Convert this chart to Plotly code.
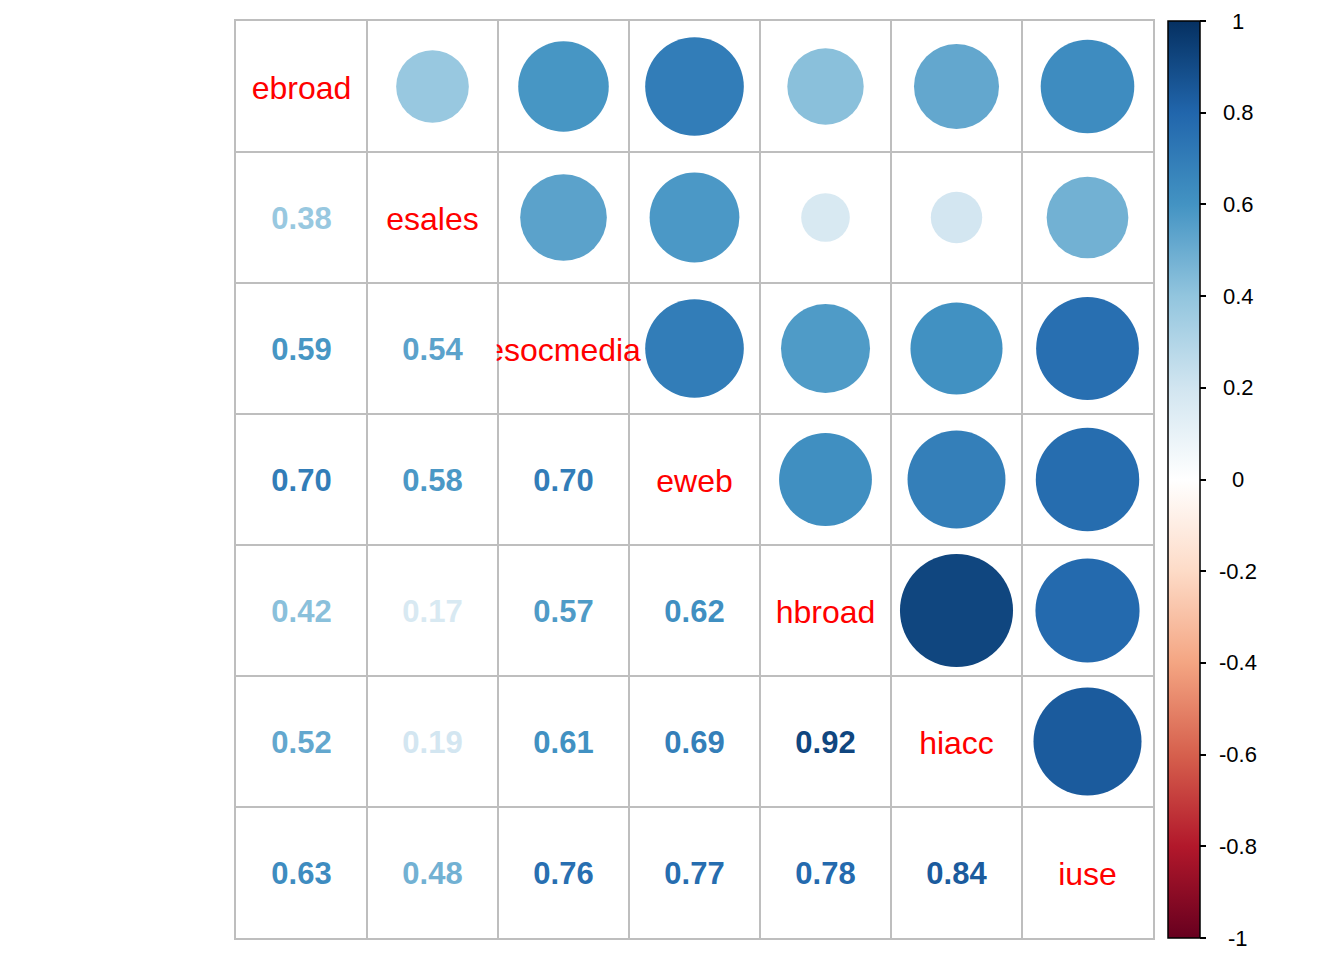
import numpy as np
import plotly.graph_objects as go

variables = ["ebroad", "esales", "esocmedia", "eweb", "hbroad", "hiacc", "iuse"]

# lower-triangle correlations, row by row (row i, columns 0..i-1)
corr_esales = [0.38]
corr_esocmedia = [0.59, 0.54]
corr_eweb = [0.70, 0.58, 0.70]
corr_hbroad = [0.42, 0.17, 0.57, 0.62]
corr_hiacc = [0.52, 0.19, 0.61, 0.69, 0.92]
corr_iuse = [0.63, 0.48, 0.76, 0.77, 0.78, 0.84]

lower_rows = [[], corr_esales, corr_esocmedia, corr_eweb, corr_hbroad, corr_hiacc, corr_iuse]

colorbar_ticks = [-1, -0.8, -0.6, -0.4, -0.2, 0, 0.2, 0.4, 0.6, 0.8, 1]
colorbar_labels = ["-1", "-0.8", "-0.6", "-0.4", "-0.2", "0", "0.2", "0.4", "0.6", "0.8", "1"]

palette = ["#67001F", "#B2182B", "#D6604D", "#F4A582", "#FDDBC7", "#FFFFFF",
           "#D1E5F0", "#92C5DE", "#4393C3", "#2166AC", "#053061"]

n = len(variables)
M = np.eye(n)
for i, row in enumerate(lower_rows):
    for j, v in enumerate(row):
        M[i, j] = v
        M[j, i] = v


def hex2rgb(h):
    h = h.lstrip("#")
    return [int(h[k:k + 2], 16) for k in (0, 2, 4)]


pal_rgb = np.array([hex2rgb(c) for c in palette], dtype=float)
pal_pos = np.linspace(-1, 1, len(palette))


def col_of(v):
    rgb = [np.interp(v, pal_pos, pal_rgb[:, k]) for k in range(3)]
    return "rgb(%d,%d,%d)" % tuple(int(round(c)) for c in rgb)


W, H = 1344, 960
ml, mr, mt, mb = 236, 191, 21, 22
plot_w = W - ml - mr
cell_px = plot_w / n
text_dy = 4.0 / cell_px  # small downward nudge of text baseline, in cell units

# upper triangle circles
cx, cy, cs, cc = [], [], [], []
for i in range(n):
    for j in range(i + 1, n):
        v = M[i, j]
        cx.append(j)
        cy.append(i)
        cs.append(0.9 * cell_px * np.sqrt(abs(v)))
        cc.append(col_of(v))

# lower triangle numbers
tx, ty, tt, tc = [], [], [], []
for i in range(n):
    for j in range(i):
        v = M[i, j]
        tx.append(j)
        ty.append(i + text_dy)
        tt.append("%.2f" % v)
        tc.append(col_of(v))

fig = go.Figure()

fig.add_trace(go.Scatter(
    x=cx, y=cy, mode="markers",
    marker=dict(size=cs, color=cc, opacity=1, line=dict(width=0)),
    hoverinfo="skip", showlegend=False,
))

fig.add_trace(go.Scatter(
    x=tx, y=ty, mode="text", text=tt,
    textfont=dict(family="Liberation Sans", size=31, color=tc, weight="bold"),
    hoverinfo="skip", showlegend=False,
))

fig.add_trace(go.Scatter(
    x=list(range(n)), y=[k + text_dy for k in range(n)], mode="text", text=variables,
    textfont=dict(family="Liberation Sans", size=32, color="#FF0000"),
    hoverinfo="skip", showlegend=False,
))

# colorbar carrier
cscale = [[float(k) / (len(palette) - 1), c] for k, c in enumerate(palette)]
fig.add_trace(go.Scatter(
    x=[None], y=[None], mode="markers",
    marker=dict(color=[0], cmin=-1, cmax=1, colorscale=cscale, showscale=True,
                colorbar=dict(
                    x=(1168 - ml) / plot_w, xanchor="left", xpad=0, ypad=0,
                    y=0.5, yanchor="middle", len=1, lenmode="fraction",
                    thickness=32, outlinewidth=1.5, outlinecolor="black",
                    tickvals=colorbar_ticks, ticks="outside", ticklen=6,
                    tickcolor="black", tickwidth=1.5, showticklabels=False)),
    hoverinfo="skip", showlegend=False,
))

annotations = []
for v, lab in zip(colorbar_ticks, colorbar_labels):
    annotations.append(dict(
        x=(1238 - ml) / plot_w, y=(v + 1) / 2, xref="paper", yref="paper",
        text=lab, showarrow=False, xanchor="center", yanchor="middle",
        font=dict(family="Liberation Sans", size=22, color="black")))

# white mask: the neighbouring cell hides the overflow of the long diagonal label
k_long = variables.index("esocmedia")
shapes = [dict(type="rect", xref="x", yref="y", layer="above",
               x0=k_long - 0.5 - 14 / cell_px, x1=k_long - 0.5 - 1.3 / cell_px,
               y0=k_long - 0.5 + 1.5 / cell_px, y1=k_long + 0.5 - 1.5 / cell_px,
               fillcolor="white", line=dict(width=0))]

grid = [k - 0.5 for k in range(n + 1)]
axis_common = dict(
    tickvals=grid, showticklabels=False, ticks="", showgrid=True,
    gridcolor="#BEBEBE", gridwidth=2, zeroline=False,
    showline=True, mirror=True, linecolor="#BEBEBE", linewidth=2,
)
fig.update_layout(
    width=W, height=H,
    margin=dict(l=ml, r=mr, t=mt, b=mb),
    plot_bgcolor="white", paper_bgcolor="white",
    xaxis=dict(range=[-0.5, n - 0.5], **axis_common),
    yaxis=dict(range=[n - 0.5, -0.5], **axis_common),
    annotations=annotations,
    shapes=shapes,
)

fig.write_html("out.html", config={"displayModeBar": False},
               post_script="document.body.style.margin='0';document.body.style.overflow='hidden';")
